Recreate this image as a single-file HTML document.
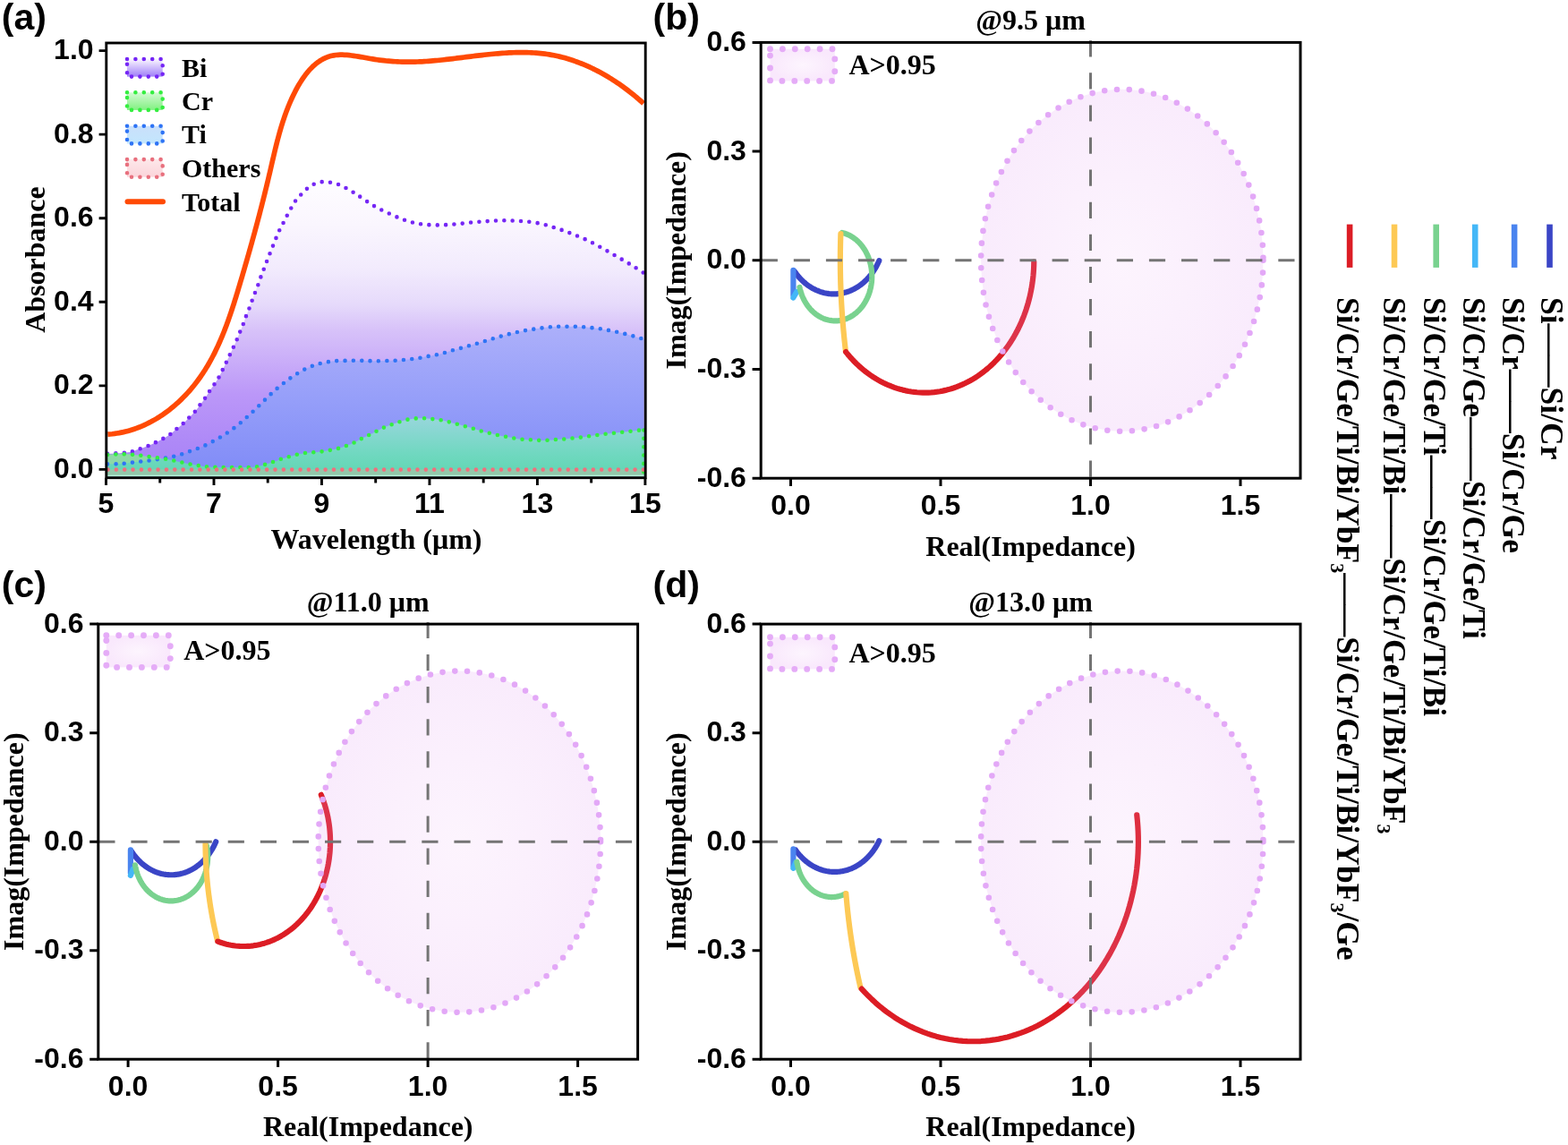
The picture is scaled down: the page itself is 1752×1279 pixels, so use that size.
<!DOCTYPE html><html><head><meta charset="utf-8"><title>Figure</title><style>html,body{margin:0;padding:0;background:#fff;}svg{display:block;}</style></head><body>
<svg width="1752" height="1279" viewBox="0 0 1752 1279">
<rect width="1752" height="1279" fill="#fff"/>
<defs>
<linearGradient id="gBi" gradientUnits="userSpaceOnUse" x1="0" y1="200" x2="0" y2="534"><stop offset="0" stop-color="#fefdff"/><stop offset="0.15" stop-color="#faf6fe"/><stop offset="0.3" stop-color="#f2ebfd"/><stop offset="0.42" stop-color="#e6dafb"/><stop offset="0.5" stop-color="#d8c3f9"/><stop offset="0.72" stop-color="#bb97f8"/><stop offset="0.88" stop-color="#ae89f7"/><stop offset="1" stop-color="#a880f6"/></linearGradient>
<linearGradient id="gTi" gradientUnits="userSpaceOnUse" x1="0" y1="362" x2="0" y2="534"><stop offset="0" stop-color="#adb0fa"/><stop offset="0.5" stop-color="#959ef9"/><stop offset="1" stop-color="#7f8af7"/></linearGradient>
<linearGradient id="gCr" gradientUnits="userSpaceOnUse" x1="0" y1="466" x2="0" y2="534"><stop offset="0" stop-color="#98d6dc"/><stop offset="0.6" stop-color="#70d8c0"/><stop offset="1" stop-color="#5ed6b0"/></linearGradient>
<linearGradient id="gCrL" gradientUnits="userSpaceOnUse" x1="0" y1="500" x2="0" y2="534"><stop offset="0" stop-color="#94daa4"/><stop offset="1" stop-color="#84d6a8"/></linearGradient>
<linearGradient id="sBi" x1="0" y1="0" x2="0" y2="1"><stop offset="0" stop-color="#fbf7ff"/><stop offset="1" stop-color="#9f7ef8"/></linearGradient>
<linearGradient id="sCr" x1="0" y1="0" x2="0" y2="1"><stop offset="0" stop-color="#d4fad4"/><stop offset="1" stop-color="#80f080"/></linearGradient>
<linearGradient id="sTi" x1="0" y1="0" x2="0" y2="1"><stop offset="0" stop-color="#cae0fb"/><stop offset="1" stop-color="#c2e6fd"/></linearGradient>
<linearGradient id="sOt" x1="0" y1="0" x2="0" y2="1"><stop offset="0" stop-color="#fde8ea"/><stop offset="1" stop-color="#fbd4da"/></linearGradient>
<radialGradient id="gPk" cx="0.5" cy="0.5" r="0.5"><stop offset="0" stop-color="#fdf5fe"/><stop offset="1" stop-color="#f9e8fc"/></radialGradient>
<radialGradient id="gPkA" cx="0.5" cy="0.5" r="0.5"><stop offset="0" stop-color="#eaa4f4" stop-opacity="0.12"/><stop offset="1" stop-color="#e098f0" stop-opacity="0.19"/></radialGradient>
<clipPath id="clipA"><rect x="120" y="49.5" width="599.5" height="82.6"/></clipPath>
</defs>
<g>
<path d="M120,506.9 C122.6,506.73 131.37,506.22 135.6,505.9 C139.83,505.58 142.3,505.65 145.4,505 C148.5,504.35 151.12,503.05 154.2,502 C157.28,500.95 160.98,499.83 163.9,498.7 C166.82,497.57 168.93,496.5 171.7,495.2 C174.47,493.9 177.57,492.47 180.5,490.9 C183.43,489.33 186.68,487.62 189.3,485.8 C191.92,483.98 193.75,482.02 196.2,480 C198.65,477.98 201.57,475.88 204,473.7 C206.43,471.52 208.52,469.18 210.8,466.9 C213.08,464.62 215.58,462.45 217.7,460 C219.82,457.55 221.55,454.8 223.5,452.2 C225.45,449.6 227.6,447 229.4,444.4 C231.2,441.8 232.6,439.15 234.3,436.6 C236,434.05 237.88,431.65 239.6,429.1 C241.32,426.55 243.05,424.02 244.6,421.3 C246.15,418.58 247.52,415.6 248.9,412.8 C250.28,410 251.55,407.32 252.9,404.5 C254.25,401.68 255.67,398.7 257,395.9 C258.33,393.1 259.62,390.47 260.9,387.7 C262.18,384.93 263.48,382.13 264.7,379.3 C265.92,376.47 267.02,373.6 268.2,370.7 C269.38,367.8 270.67,364.85 271.8,361.9 C272.93,358.95 273.88,355.92 275,353 C276.12,350.08 277.4,347.27 278.5,344.4 C279.6,341.53 280.52,338.73 281.6,335.8 C282.68,332.87 283.87,329.75 285,326.8 C286.13,323.85 287.32,321.05 288.4,318.1 C289.48,315.15 290.43,312.03 291.5,309.1 C292.57,306.17 293.68,303.42 294.8,300.5 C295.92,297.58 297.05,294.55 298.2,291.6 C299.35,288.65 300.55,285.68 301.7,282.8 C302.85,279.92 303.93,277.22 305.1,274.3 C306.27,271.38 307.47,268.23 308.7,265.3 C309.93,262.37 311.15,259.48 312.5,256.7 C313.85,253.92 315.37,251.38 316.8,248.6 C318.23,245.82 319.62,242.8 321.1,240 C322.58,237.2 324.12,234.52 325.7,231.8 C327.28,229.08 328.72,226.22 330.6,223.7 C332.48,221.18 334.77,218.98 337,216.7 C339.23,214.42 341.62,211.87 344,210 C346.38,208.13 348.6,206.65 351.3,205.5 C354,204.35 357.2,203.38 360.2,203.1 C363.2,202.82 366.25,203.28 369.3,203.8 C372.35,204.32 375.52,205.1 378.5,206.2 C381.48,207.3 384.35,208.88 387.2,210.4 C390.05,211.92 392.88,213.62 395.6,215.3 C398.32,216.98 399.77,218.03 403.5,220.5 C407.23,222.97 412.53,226.98 418,230.1 C423.47,233.22 430.37,236.5 436.3,239.2 C442.23,241.9 447.83,244.43 453.6,246.3 C459.37,248.17 464.8,249.55 470.9,250.4 C477,251.25 483.93,251.4 490.2,251.4 C496.47,251.4 502.23,250.9 508.5,250.4 C514.77,249.9 521.53,248.97 527.8,248.4 C534.07,247.83 540,247.35 546.1,247 C552.2,246.65 558.3,246.3 564.4,246.3 C570.5,246.3 576.43,246.48 582.7,247 C588.97,247.52 595.73,248.15 602,249.4 C608.27,250.65 614.37,252.63 620.3,254.5 C626.23,256.37 631.85,258.4 637.6,260.6 C643.35,262.8 649.05,265 654.8,267.7 C660.55,270.4 666.5,273.75 672.1,276.8 C677.7,279.85 682.98,282.88 688.4,286 C693.82,289.12 699.42,292.33 704.6,295.5 C709.78,298.67 717.02,303.42 719.5,305 L719.5,532.2 L120,532.2 Z" fill="url(#gBi)"/>
<path d="M120,518.4 C122.17,518.35 129.27,518.28 133,518.1 C136.73,517.92 139.3,517.63 142.4,517.3 C145.5,516.97 148.5,516.47 151.6,516.1 C154.7,515.73 157.87,515.45 161,515.1 C164.13,514.75 167.3,514.45 170.4,514 C173.5,513.55 176.55,512.93 179.6,512.4 C182.65,511.87 185.62,511.38 188.7,510.8 C191.78,510.22 195.03,509.72 198.1,508.9 C201.17,508.08 204.1,506.95 207.1,505.9 C210.1,504.85 213.13,503.67 216.1,502.6 C219.07,501.53 221.97,500.73 224.9,499.5 C227.83,498.27 230.83,496.67 233.7,495.2 C236.57,493.73 239.33,492.27 242.1,490.7 C244.87,489.13 247.63,487.5 250.3,485.8 C252.97,484.1 255.5,482.35 258.1,480.5 C260.7,478.65 263.35,476.75 265.9,474.7 C268.45,472.65 271.02,470.32 273.4,468.2 C275.78,466.08 277.93,464.12 280.2,462 C282.47,459.88 284.72,457.72 287,455.5 C289.28,453.28 291.62,450.95 293.9,448.7 C296.18,446.45 298.42,444.18 300.7,442 C302.98,439.82 305.25,437.65 307.6,435.6 C309.95,433.55 312.37,431.65 314.8,429.7 C317.23,427.75 319.75,425.68 322.2,423.9 C324.65,422.12 326.98,420.63 329.5,419 C332.02,417.37 334.6,415.57 337.3,414.1 C340,412.63 342.9,411.4 345.7,410.2 C348.5,409 351.17,407.78 354.1,406.9 C357.03,406.02 360.25,405.5 363.3,404.9 C366.35,404.3 369.32,403.62 372.4,403.3 C375.48,402.98 378.7,403.08 381.8,403 C384.9,402.92 387.9,402.83 391,402.8 C394.1,402.77 397.27,402.77 400.4,402.8 C403.53,402.83 406.87,402.92 409.8,403 C412.73,403.08 414.85,403.3 418,403.3 C421.15,403.3 425.35,403.08 428.7,403 C432.05,402.92 435,402.9 438.1,402.8 C441.2,402.7 444.2,402.63 447.3,402.4 C450.4,402.17 453.6,401.73 456.7,401.4 C459.8,401.07 462.83,400.88 465.9,400.4 C468.97,399.92 472.02,399.08 475.1,398.5 C478.18,397.92 481.32,397.5 484.4,396.9 C487.48,396.3 490.57,395.68 493.6,394.9 C496.63,394.12 499.57,393.07 502.6,392.2 C505.63,391.33 508.73,390.55 511.8,389.7 C514.87,388.85 518,387.95 521,387.1 C524,386.25 526.83,385.47 529.8,384.6 C532.77,383.73 535.87,382.78 538.8,381.9 C541.73,381.02 544.47,380.18 547.4,379.3 C550.33,378.42 553.38,377.48 556.4,376.6 C559.42,375.72 562.45,374.82 565.5,374 C568.55,373.18 571.67,372.42 574.7,371.7 C577.73,370.98 580.67,370.28 583.7,369.7 C586.73,369.12 589.83,368.68 592.9,368.2 C595.97,367.72 599,367.23 602.1,366.8 C605.2,366.37 608.4,365.93 611.5,365.6 C614.6,365.27 617.62,364.95 620.7,364.8 C623.78,364.65 626.92,364.72 630,364.7 C633.08,364.68 636.1,364.65 639.2,364.7 C642.3,364.75 645.47,364.82 648.6,365 C651.73,365.18 654.9,365.5 658,365.8 C661.1,366.1 664.13,366.4 667.2,366.8 C670.27,367.2 673.32,367.65 676.4,368.2 C679.48,368.75 682.58,369.45 685.7,370.1 C688.82,370.75 692.07,371.38 695.1,372.1 C698.13,372.82 700.9,373.58 703.9,374.4 C706.9,375.22 710.5,376.25 713.1,377 C715.7,377.75 718.43,378.58 719.5,378.9 L719.5,532.2 L120,532.2 Z" fill="url(#gTi)"/>
<path d="M120,507.9 C121.62,507.83 126.45,507.6 129.7,507.5 C132.95,507.4 136.33,507.23 139.5,507.3 C142.67,507.37 145.6,507.63 148.7,507.9 C151.8,508.17 155.02,508.52 158.1,508.9 C161.18,509.28 164.12,509.78 167.2,510.2 C170.28,510.62 173.5,510.97 176.6,511.4 C179.7,511.83 182.7,512.25 185.8,512.8 C188.9,513.35 192.17,514.05 195.2,514.7 C198.23,515.35 200.97,516.05 204,516.7 C207.03,517.35 210.3,518.02 213.4,518.6 C216.5,519.18 219.55,519.73 222.6,520.2 C225.65,520.67 228.62,521.13 231.7,521.4 C234.78,521.67 238,521.7 241.1,521.8 C244.2,521.9 247.2,521.97 250.3,522 C253.4,522.03 256.6,522 259.7,522 C262.8,522 265.75,522 268.9,522 C272.05,522 275.42,522.13 278.6,522 C281.78,521.87 284.97,521.77 288,521.2 C291.03,520.63 293.8,519.52 296.8,518.6 C299.8,517.68 302.97,516.73 306,515.7 C309.03,514.67 312.03,513.37 315,512.4 C317.97,511.43 320.8,510.72 323.8,509.9 C326.8,509.08 329.93,508.17 333,507.5 C336.07,506.83 339.12,506.28 342.2,505.9 C345.28,505.52 348.42,505.48 351.5,505.2 C354.58,504.92 357.6,504.63 360.7,504.2 C363.8,503.77 366.97,503.22 370.1,502.6 C373.23,501.98 376.47,501.35 379.5,500.5 C382.53,499.65 385.37,498.62 388.3,497.5 C391.23,496.38 394.27,495.17 397.1,493.8 C399.93,492.43 402.57,490.7 405.3,489.3 C408.03,487.9 410.73,486.77 413.5,485.4 C416.27,484.03 419.1,482.5 421.9,481.1 C424.7,479.7 427.43,478.23 430.3,477 C433.17,475.77 436.2,474.73 439.1,473.7 C442,472.67 444.77,471.68 447.7,470.8 C450.63,469.92 453.67,468.98 456.7,468.4 C459.73,467.82 462.8,467.48 465.9,467.3 C469,467.12 472.22,467.15 475.3,467.3 C478.38,467.45 481.32,467.85 484.4,468.2 C487.48,468.55 490.7,468.82 493.8,469.4 C496.9,469.98 499.93,470.92 503,471.7 C506.07,472.48 509.17,473.28 512.2,474.1 C515.23,474.92 518.17,475.75 521.2,476.6 C524.23,477.45 527.4,478.32 530.4,479.2 C533.4,480.08 536.2,481.08 539.2,481.9 C542.2,482.72 545.38,483.35 548.4,484.1 C551.42,484.85 554.28,485.75 557.3,486.4 C560.32,487.05 563.43,487.45 566.5,488 C569.57,488.55 572.6,489.22 575.7,489.7 C578.8,490.18 581.97,490.63 585.1,490.9 C588.23,491.17 591.4,491.13 594.5,491.3 C597.6,491.47 600.62,491.83 603.7,491.9 C606.78,491.97 609.85,491.87 613,491.7 C616.15,491.53 619.43,491.13 622.6,490.9 C625.77,490.67 628.87,490.57 632,490.3 C635.13,490.03 638.3,489.62 641.4,489.3 C644.5,488.98 647.52,488.78 650.6,488.4 C653.68,488.02 656.82,487.43 659.9,487 C662.98,486.57 666.03,486.2 669.1,485.8 C672.17,485.4 675.2,484.98 678.3,484.6 C681.4,484.22 684.6,483.85 687.7,483.5 C690.8,483.15 693.8,482.83 696.9,482.5 C700,482.17 703.18,481.83 706.3,481.5 C709.42,481.17 713.4,480.7 715.6,480.5 C717.8,480.3 718.85,480.33 719.5,480.3 L719.5,532.2 L120,532.2 Z" fill="url(#gCr)"/>
<clipPath id="crAboveTi"><path d="M120,518.4 C122.17,518.35 129.27,518.28 133,518.1 C136.73,517.92 139.3,517.63 142.4,517.3 C145.5,516.97 148.5,516.47 151.6,516.1 C154.7,515.73 157.87,515.45 161,515.1 C164.13,514.75 167.3,514.45 170.4,514 C173.5,513.55 176.55,512.93 179.6,512.4 C182.65,511.87 185.62,511.38 188.7,510.8 C191.78,510.22 195.03,509.72 198.1,508.9 C201.17,508.08 204.1,506.95 207.1,505.9 C210.1,504.85 213.13,503.67 216.1,502.6 C219.07,501.53 221.97,500.73 224.9,499.5 C227.83,498.27 230.83,496.67 233.7,495.2 C236.57,493.73 239.33,492.27 242.1,490.7 C244.87,489.13 247.63,487.5 250.3,485.8 C252.97,484.1 255.5,482.35 258.1,480.5 C260.7,478.65 263.35,476.75 265.9,474.7 C268.45,472.65 271.02,470.32 273.4,468.2 C275.78,466.08 277.93,464.12 280.2,462 C282.47,459.88 284.72,457.72 287,455.5 C289.28,453.28 291.62,450.95 293.9,448.7 C296.18,446.45 298.42,444.18 300.7,442 C302.98,439.82 305.25,437.65 307.6,435.6 C309.95,433.55 312.37,431.65 314.8,429.7 C317.23,427.75 319.75,425.68 322.2,423.9 C324.65,422.12 326.98,420.63 329.5,419 C332.02,417.37 334.6,415.57 337.3,414.1 C340,412.63 342.9,411.4 345.7,410.2 C348.5,409 351.17,407.78 354.1,406.9 C357.03,406.02 360.25,405.5 363.3,404.9 C366.35,404.3 369.32,403.62 372.4,403.3 C375.48,402.98 378.7,403.08 381.8,403 C384.9,402.92 387.9,402.83 391,402.8 C394.1,402.77 397.27,402.77 400.4,402.8 C403.53,402.83 406.87,402.92 409.8,403 C412.73,403.08 414.85,403.3 418,403.3 C421.15,403.3 425.35,403.08 428.7,403 C432.05,402.92 435,402.9 438.1,402.8 C441.2,402.7 444.2,402.63 447.3,402.4 C450.4,402.17 453.6,401.73 456.7,401.4 C459.8,401.07 462.83,400.88 465.9,400.4 C468.97,399.92 472.02,399.08 475.1,398.5 C478.18,397.92 481.32,397.5 484.4,396.9 C487.48,396.3 490.57,395.68 493.6,394.9 C496.63,394.12 499.57,393.07 502.6,392.2 C505.63,391.33 508.73,390.55 511.8,389.7 C514.87,388.85 518,387.95 521,387.1 C524,386.25 526.83,385.47 529.8,384.6 C532.77,383.73 535.87,382.78 538.8,381.9 C541.73,381.02 544.47,380.18 547.4,379.3 C550.33,378.42 553.38,377.48 556.4,376.6 C559.42,375.72 562.45,374.82 565.5,374 C568.55,373.18 571.67,372.42 574.7,371.7 C577.73,370.98 580.67,370.28 583.7,369.7 C586.73,369.12 589.83,368.68 592.9,368.2 C595.97,367.72 599,367.23 602.1,366.8 C605.2,366.37 608.4,365.93 611.5,365.6 C614.6,365.27 617.62,364.95 620.7,364.8 C623.78,364.65 626.92,364.72 630,364.7 C633.08,364.68 636.1,364.65 639.2,364.7 C642.3,364.75 645.47,364.82 648.6,365 C651.73,365.18 654.9,365.5 658,365.8 C661.1,366.1 664.13,366.4 667.2,366.8 C670.27,367.2 673.32,367.65 676.4,368.2 C679.48,368.75 682.58,369.45 685.7,370.1 C688.82,370.75 692.07,371.38 695.1,372.1 C698.13,372.82 700.9,373.58 703.9,374.4 C706.9,375.22 710.5,376.25 713.1,377 C715.7,377.75 718.43,378.58 719.5,378.9 L719.5,40 L120,40 Z"/></clipPath>
<path d="M120,507.9 C121.62,507.83 126.45,507.6 129.7,507.5 C132.95,507.4 136.33,507.23 139.5,507.3 C142.67,507.37 145.6,507.63 148.7,507.9 C151.8,508.17 155.02,508.52 158.1,508.9 C161.18,509.28 164.12,509.78 167.2,510.2 C170.28,510.62 173.5,510.97 176.6,511.4 C179.7,511.83 182.7,512.25 185.8,512.8 C188.9,513.35 192.17,514.05 195.2,514.7 C198.23,515.35 200.97,516.05 204,516.7 C207.03,517.35 210.3,518.02 213.4,518.6 C216.5,519.18 219.55,519.73 222.6,520.2 C225.65,520.67 228.62,521.13 231.7,521.4 C234.78,521.67 238,521.7 241.1,521.8 C244.2,521.9 247.2,521.97 250.3,522 C253.4,522.03 256.6,522 259.7,522 C262.8,522 265.75,522 268.9,522 C272.05,522 275.42,522.13 278.6,522 C281.78,521.87 284.97,521.77 288,521.2 C291.03,520.63 293.8,519.52 296.8,518.6 C299.8,517.68 302.97,516.73 306,515.7 C309.03,514.67 312.03,513.37 315,512.4 C317.97,511.43 320.8,510.72 323.8,509.9 C326.8,509.08 329.93,508.17 333,507.5 C336.07,506.83 339.12,506.28 342.2,505.9 C345.28,505.52 348.42,505.48 351.5,505.2 C354.58,504.92 357.6,504.63 360.7,504.2 C363.8,503.77 366.97,503.22 370.1,502.6 C373.23,501.98 376.47,501.35 379.5,500.5 C382.53,499.65 385.37,498.62 388.3,497.5 C391.23,496.38 394.27,495.17 397.1,493.8 C399.93,492.43 402.57,490.7 405.3,489.3 C408.03,487.9 410.73,486.77 413.5,485.4 C416.27,484.03 419.1,482.5 421.9,481.1 C424.7,479.7 427.43,478.23 430.3,477 C433.17,475.77 436.2,474.73 439.1,473.7 C442,472.67 444.77,471.68 447.7,470.8 C450.63,469.92 453.67,468.98 456.7,468.4 C459.73,467.82 462.8,467.48 465.9,467.3 C469,467.12 472.22,467.15 475.3,467.3 C478.38,467.45 481.32,467.85 484.4,468.2 C487.48,468.55 490.7,468.82 493.8,469.4 C496.9,469.98 499.93,470.92 503,471.7 C506.07,472.48 509.17,473.28 512.2,474.1 C515.23,474.92 518.17,475.75 521.2,476.6 C524.23,477.45 527.4,478.32 530.4,479.2 C533.4,480.08 536.2,481.08 539.2,481.9 C542.2,482.72 545.38,483.35 548.4,484.1 C551.42,484.85 554.28,485.75 557.3,486.4 C560.32,487.05 563.43,487.45 566.5,488 C569.57,488.55 572.6,489.22 575.7,489.7 C578.8,490.18 581.97,490.63 585.1,490.9 C588.23,491.17 591.4,491.13 594.5,491.3 C597.6,491.47 600.62,491.83 603.7,491.9 C606.78,491.97 609.85,491.87 613,491.7 C616.15,491.53 619.43,491.13 622.6,490.9 C625.77,490.67 628.87,490.57 632,490.3 C635.13,490.03 638.3,489.62 641.4,489.3 C644.5,488.98 647.52,488.78 650.6,488.4 C653.68,488.02 656.82,487.43 659.9,487 C662.98,486.57 666.03,486.2 669.1,485.8 C672.17,485.4 675.2,484.98 678.3,484.6 C681.4,484.22 684.6,483.85 687.7,483.5 C690.8,483.15 693.8,482.83 696.9,482.5 C700,482.17 703.18,481.83 706.3,481.5 C709.42,481.17 713.4,480.7 715.6,480.5 C717.8,480.3 718.85,480.33 719.5,480.3 L719.5,532.2 L120,532.2 Z" fill="url(#gCrL)" clip-path="url(#crAboveTi)"/>
<rect x="120" y="524.4" width="599.5" height="7.8" fill="#93c8aa"/>
<rect x="120" y="530.6" width="599.5" height="1.6" fill="#b2eed6"/>
</g>
<path d="M120,506.9 C122.6,506.73 131.37,506.22 135.6,505.9 C139.83,505.58 142.3,505.65 145.4,505 C148.5,504.35 151.12,503.05 154.2,502 C157.28,500.95 160.98,499.83 163.9,498.7 C166.82,497.57 168.93,496.5 171.7,495.2 C174.47,493.9 177.57,492.47 180.5,490.9 C183.43,489.33 186.68,487.62 189.3,485.8 C191.92,483.98 193.75,482.02 196.2,480 C198.65,477.98 201.57,475.88 204,473.7 C206.43,471.52 208.52,469.18 210.8,466.9 C213.08,464.62 215.58,462.45 217.7,460 C219.82,457.55 221.55,454.8 223.5,452.2 C225.45,449.6 227.6,447 229.4,444.4 C231.2,441.8 232.6,439.15 234.3,436.6 C236,434.05 237.88,431.65 239.6,429.1 C241.32,426.55 243.05,424.02 244.6,421.3 C246.15,418.58 247.52,415.6 248.9,412.8 C250.28,410 251.55,407.32 252.9,404.5 C254.25,401.68 255.67,398.7 257,395.9 C258.33,393.1 259.62,390.47 260.9,387.7 C262.18,384.93 263.48,382.13 264.7,379.3 C265.92,376.47 267.02,373.6 268.2,370.7 C269.38,367.8 270.67,364.85 271.8,361.9 C272.93,358.95 273.88,355.92 275,353 C276.12,350.08 277.4,347.27 278.5,344.4 C279.6,341.53 280.52,338.73 281.6,335.8 C282.68,332.87 283.87,329.75 285,326.8 C286.13,323.85 287.32,321.05 288.4,318.1 C289.48,315.15 290.43,312.03 291.5,309.1 C292.57,306.17 293.68,303.42 294.8,300.5 C295.92,297.58 297.05,294.55 298.2,291.6 C299.35,288.65 300.55,285.68 301.7,282.8 C302.85,279.92 303.93,277.22 305.1,274.3 C306.27,271.38 307.47,268.23 308.7,265.3 C309.93,262.37 311.15,259.48 312.5,256.7 C313.85,253.92 315.37,251.38 316.8,248.6 C318.23,245.82 319.62,242.8 321.1,240 C322.58,237.2 324.12,234.52 325.7,231.8 C327.28,229.08 328.72,226.22 330.6,223.7 C332.48,221.18 334.77,218.98 337,216.7 C339.23,214.42 341.62,211.87 344,210 C346.38,208.13 348.6,206.65 351.3,205.5 C354,204.35 357.2,203.38 360.2,203.1 C363.2,202.82 366.25,203.28 369.3,203.8 C372.35,204.32 375.52,205.1 378.5,206.2 C381.48,207.3 384.35,208.88 387.2,210.4 C390.05,211.92 392.88,213.62 395.6,215.3 C398.32,216.98 399.77,218.03 403.5,220.5 C407.23,222.97 412.53,226.98 418,230.1 C423.47,233.22 430.37,236.5 436.3,239.2 C442.23,241.9 447.83,244.43 453.6,246.3 C459.37,248.17 464.8,249.55 470.9,250.4 C477,251.25 483.93,251.4 490.2,251.4 C496.47,251.4 502.23,250.9 508.5,250.4 C514.77,249.9 521.53,248.97 527.8,248.4 C534.07,247.83 540,247.35 546.1,247 C552.2,246.65 558.3,246.3 564.4,246.3 C570.5,246.3 576.43,246.48 582.7,247 C588.97,247.52 595.73,248.15 602,249.4 C608.27,250.65 614.37,252.63 620.3,254.5 C626.23,256.37 631.85,258.4 637.6,260.6 C643.35,262.8 649.05,265 654.8,267.7 C660.55,270.4 666.5,273.75 672.1,276.8 C677.7,279.85 682.98,282.88 688.4,286 C693.82,289.12 699.42,292.33 704.6,295.5 C709.78,298.67 717.02,303.42 719.5,305" fill="none" stroke="#7526f5" stroke-width="4.6" stroke-linecap="round" stroke-dasharray="0 9.35"/>
<path d="M120,518.4 C122.17,518.35 129.27,518.28 133,518.1 C136.73,517.92 139.3,517.63 142.4,517.3 C145.5,516.97 148.5,516.47 151.6,516.1 C154.7,515.73 157.87,515.45 161,515.1 C164.13,514.75 167.3,514.45 170.4,514 C173.5,513.55 176.55,512.93 179.6,512.4 C182.65,511.87 185.62,511.38 188.7,510.8 C191.78,510.22 195.03,509.72 198.1,508.9 C201.17,508.08 204.1,506.95 207.1,505.9 C210.1,504.85 213.13,503.67 216.1,502.6 C219.07,501.53 221.97,500.73 224.9,499.5 C227.83,498.27 230.83,496.67 233.7,495.2 C236.57,493.73 239.33,492.27 242.1,490.7 C244.87,489.13 247.63,487.5 250.3,485.8 C252.97,484.1 255.5,482.35 258.1,480.5 C260.7,478.65 263.35,476.75 265.9,474.7 C268.45,472.65 271.02,470.32 273.4,468.2 C275.78,466.08 277.93,464.12 280.2,462 C282.47,459.88 284.72,457.72 287,455.5 C289.28,453.28 291.62,450.95 293.9,448.7 C296.18,446.45 298.42,444.18 300.7,442 C302.98,439.82 305.25,437.65 307.6,435.6 C309.95,433.55 312.37,431.65 314.8,429.7 C317.23,427.75 319.75,425.68 322.2,423.9 C324.65,422.12 326.98,420.63 329.5,419 C332.02,417.37 334.6,415.57 337.3,414.1 C340,412.63 342.9,411.4 345.7,410.2 C348.5,409 351.17,407.78 354.1,406.9 C357.03,406.02 360.25,405.5 363.3,404.9 C366.35,404.3 369.32,403.62 372.4,403.3 C375.48,402.98 378.7,403.08 381.8,403 C384.9,402.92 387.9,402.83 391,402.8 C394.1,402.77 397.27,402.77 400.4,402.8 C403.53,402.83 406.87,402.92 409.8,403 C412.73,403.08 414.85,403.3 418,403.3 C421.15,403.3 425.35,403.08 428.7,403 C432.05,402.92 435,402.9 438.1,402.8 C441.2,402.7 444.2,402.63 447.3,402.4 C450.4,402.17 453.6,401.73 456.7,401.4 C459.8,401.07 462.83,400.88 465.9,400.4 C468.97,399.92 472.02,399.08 475.1,398.5 C478.18,397.92 481.32,397.5 484.4,396.9 C487.48,396.3 490.57,395.68 493.6,394.9 C496.63,394.12 499.57,393.07 502.6,392.2 C505.63,391.33 508.73,390.55 511.8,389.7 C514.87,388.85 518,387.95 521,387.1 C524,386.25 526.83,385.47 529.8,384.6 C532.77,383.73 535.87,382.78 538.8,381.9 C541.73,381.02 544.47,380.18 547.4,379.3 C550.33,378.42 553.38,377.48 556.4,376.6 C559.42,375.72 562.45,374.82 565.5,374 C568.55,373.18 571.67,372.42 574.7,371.7 C577.73,370.98 580.67,370.28 583.7,369.7 C586.73,369.12 589.83,368.68 592.9,368.2 C595.97,367.72 599,367.23 602.1,366.8 C605.2,366.37 608.4,365.93 611.5,365.6 C614.6,365.27 617.62,364.95 620.7,364.8 C623.78,364.65 626.92,364.72 630,364.7 C633.08,364.68 636.1,364.65 639.2,364.7 C642.3,364.75 645.47,364.82 648.6,365 C651.73,365.18 654.9,365.5 658,365.8 C661.1,366.1 664.13,366.4 667.2,366.8 C670.27,367.2 673.32,367.65 676.4,368.2 C679.48,368.75 682.58,369.45 685.7,370.1 C688.82,370.75 692.07,371.38 695.1,372.1 C698.13,372.82 700.9,373.58 703.9,374.4 C706.9,375.22 710.5,376.25 713.1,377 C715.7,377.75 718.43,378.58 719.5,378.9" fill="none" stroke="#2f74f5" stroke-width="4.6" stroke-linecap="round" stroke-dasharray="0 9.35"/>
<path d="M120,507.9 C121.62,507.83 126.45,507.6 129.7,507.5 C132.95,507.4 136.33,507.23 139.5,507.3 C142.67,507.37 145.6,507.63 148.7,507.9 C151.8,508.17 155.02,508.52 158.1,508.9 C161.18,509.28 164.12,509.78 167.2,510.2 C170.28,510.62 173.5,510.97 176.6,511.4 C179.7,511.83 182.7,512.25 185.8,512.8 C188.9,513.35 192.17,514.05 195.2,514.7 C198.23,515.35 200.97,516.05 204,516.7 C207.03,517.35 210.3,518.02 213.4,518.6 C216.5,519.18 219.55,519.73 222.6,520.2 C225.65,520.67 228.62,521.13 231.7,521.4 C234.78,521.67 238,521.7 241.1,521.8 C244.2,521.9 247.2,521.97 250.3,522 C253.4,522.03 256.6,522 259.7,522 C262.8,522 265.75,522 268.9,522 C272.05,522 275.42,522.13 278.6,522 C281.78,521.87 284.97,521.77 288,521.2 C291.03,520.63 293.8,519.52 296.8,518.6 C299.8,517.68 302.97,516.73 306,515.7 C309.03,514.67 312.03,513.37 315,512.4 C317.97,511.43 320.8,510.72 323.8,509.9 C326.8,509.08 329.93,508.17 333,507.5 C336.07,506.83 339.12,506.28 342.2,505.9 C345.28,505.52 348.42,505.48 351.5,505.2 C354.58,504.92 357.6,504.63 360.7,504.2 C363.8,503.77 366.97,503.22 370.1,502.6 C373.23,501.98 376.47,501.35 379.5,500.5 C382.53,499.65 385.37,498.62 388.3,497.5 C391.23,496.38 394.27,495.17 397.1,493.8 C399.93,492.43 402.57,490.7 405.3,489.3 C408.03,487.9 410.73,486.77 413.5,485.4 C416.27,484.03 419.1,482.5 421.9,481.1 C424.7,479.7 427.43,478.23 430.3,477 C433.17,475.77 436.2,474.73 439.1,473.7 C442,472.67 444.77,471.68 447.7,470.8 C450.63,469.92 453.67,468.98 456.7,468.4 C459.73,467.82 462.8,467.48 465.9,467.3 C469,467.12 472.22,467.15 475.3,467.3 C478.38,467.45 481.32,467.85 484.4,468.2 C487.48,468.55 490.7,468.82 493.8,469.4 C496.9,469.98 499.93,470.92 503,471.7 C506.07,472.48 509.17,473.28 512.2,474.1 C515.23,474.92 518.17,475.75 521.2,476.6 C524.23,477.45 527.4,478.32 530.4,479.2 C533.4,480.08 536.2,481.08 539.2,481.9 C542.2,482.72 545.38,483.35 548.4,484.1 C551.42,484.85 554.28,485.75 557.3,486.4 C560.32,487.05 563.43,487.45 566.5,488 C569.57,488.55 572.6,489.22 575.7,489.7 C578.8,490.18 581.97,490.63 585.1,490.9 C588.23,491.17 591.4,491.13 594.5,491.3 C597.6,491.47 600.62,491.83 603.7,491.9 C606.78,491.97 609.85,491.87 613,491.7 C616.15,491.53 619.43,491.13 622.6,490.9 C625.77,490.67 628.87,490.57 632,490.3 C635.13,490.03 638.3,489.62 641.4,489.3 C644.5,488.98 647.52,488.78 650.6,488.4 C653.68,488.02 656.82,487.43 659.9,487 C662.98,486.57 666.03,486.2 669.1,485.8 C672.17,485.4 675.2,484.98 678.3,484.6 C681.4,484.22 684.6,483.85 687.7,483.5 C690.8,483.15 693.8,482.83 696.9,482.5 C700,482.17 703.18,481.83 706.3,481.5 C709.42,481.17 713.4,480.7 715.6,480.5 C717.8,480.3 718.85,480.33 719.5,480.3" fill="none" stroke="#34ee40" stroke-width="4.6" stroke-linecap="round" stroke-dasharray="0 9.35"/>
<path d="M719.3,480.5 L719.3,531" fill="none" stroke="#34ee40" stroke-width="4.6" stroke-linecap="round" stroke-dasharray="0 9.35"/>
<path d="M120.5,524.6 L719.5,524.6" fill="none" stroke="#f0707e" stroke-width="4.6" stroke-linecap="round" stroke-dasharray="0 9.35"/>
<path d="M120.33,485.18 L122.89,484.98 L125.45,484.73 L127.99,484.42 L130.51,484.05 L133.01,483.63 L135.5,483.15 L137.97,482.63 L140.43,482.04 L142.86,481.41 L145.28,480.73 L147.68,479.99 L150.06,479.21 L152.42,478.38 L154.76,477.5 L157.08,476.58 L159.39,475.61 L161.67,474.59 L163.93,473.53 L166.17,472.43 L168.39,471.28 L170.59,470.09 L172.77,468.86 L174.92,467.59 L177.06,466.29 L179.17,464.94 L181.25,463.56 L183.32,462.14 L185.36,460.68 L187.37,459.19 L189.37,457.66 L191.34,456.1 L193.28,454.51 L195.2,452.89 L197.09,451.23 L198.96,449.55 L200.8,447.84 L202.62,446.09 L204.41,444.33 L206.18,442.53 L207.91,440.71 L209.62,438.86 L211.3,436.99 L212.96,435.09 L214.58,433.18 L216.18,431.24 L217.75,429.28 L219.29,427.3 L220.8,425.3 L222.28,423.28 L223.73,421.24 L225.15,419.19 L226.54,417.12 L227.91,415.03 L229.25,412.93 L230.56,410.81 L231.85,408.68 L233.11,406.53 L234.34,404.37 L235.56,402.19 L236.74,400 L237.91,397.79 L239.05,395.58 L240.17,393.35 L241.27,391.1 L242.35,388.85 L243.4,386.58 L244.44,384.31 L245.46,382.02 L246.46,379.73 L247.44,377.42 L248.41,375.1 L249.35,372.78 L250.29,370.45 L251.2,368.11 L252.1,365.76 L252.99,363.4 L253.86,361.04 L254.72,358.67 L255.57,356.3 L256.4,353.92 L257.22,351.54 L258.03,349.15 L258.83,346.75 L259.62,344.35 L260.41,341.95 L261.18,339.55 L261.94,337.14 L262.7,334.73 L263.45,332.32 L264.19,329.91 L264.93,327.49 L265.66,325.08 L266.39,322.67 L267.11,320.25 L267.83,317.84 L268.55,315.43 L269.26,313.01 L269.98,310.6 L270.69,308.2 L271.39,305.79 L272.1,303.38 L272.8,300.98 L273.5,298.57 L274.2,296.17 L274.89,293.77 L275.58,291.36 L276.27,288.96 L276.96,286.56 L277.64,284.16 L278.32,281.76 L279,279.36 L279.68,276.96 L280.35,274.56 L281.02,272.16 L281.69,269.76 L282.36,267.35 L283.02,264.95 L283.68,262.55 L284.34,260.15 L284.99,257.75 L285.64,255.34 L286.29,252.94 L286.94,250.53 L287.58,248.12 L288.22,245.72 L288.86,243.31 L289.5,240.9 L290.13,238.49 L290.76,236.07 L291.38,233.66 L292.01,231.24 L292.63,228.82 L293.24,226.4 L293.86,223.98 L294.47,221.56 L295.08,219.13 L295.68,216.7 L296.28,214.27 L296.88,211.84 L297.48,209.41 L298.07,206.97 L298.66,204.53 L299.24,202.08 L299.83,199.64 L300.41,197.19 L300.98,194.74 L301.56,192.28 L302.13,189.82 L302.7,187.36 L303.27,184.9 L303.84,182.44 L304.41,179.97 L304.98,177.5 L305.56,175.04 L306.14,172.57 L306.72,170.11 L307.32,167.64 L307.92,165.18 L308.52,162.72 L309.14,160.27 L309.77,157.81 L310.41,155.36 L311.06,152.91 L311.72,150.47 L312.4,148.03 L313.1,145.6 L313.81,143.17 L314.53,140.75 L315.28,138.33 L316.04,135.93 L316.83,133.52 L317.63,131.13 L318.46,128.75 L319.31,126.37 L320.18,124 L321.08,121.65 L322.01,119.3 L322.96,116.96 L323.94,114.64 L324.95,112.32 L325.99,110.02 L327.06,107.73 L328.16,105.45 L329.29,103.18 L330.46,100.93 L331.66,98.7 L332.9,96.48 L334.17,94.28 L335.49,92.12 L336.84,89.98 L338.22,87.89 L339.65,85.83 L341.12,83.83 L342.63,81.88 L344.18,79.99 L345.77,78.15 L347.41,76.39 L349.09,74.7 L350.81,73.09 L352.59,71.55 L354.4,70.11 L356.27,68.76 L358.18,67.5 L360.15,66.35 L362.16,65.3 L364.22,64.37 L366.33,63.55 L368.5,62.85 L370.72,62.28 L372.99,61.84 L375.31,61.52 L377.68,61.31 L380.09,61.21 L382.54,61.21 L385.03,61.29 L387.54,61.45 L390.09,61.68 L392.65,61.97 L395.24,62.32 L397.85,62.7 L400.46,63.13 L403.09,63.57 L405.72,64.04 L408.36,64.51 L410.99,64.99 L413.61,65.45 L416.23,65.9 L418.84,66.32 L421.43,66.7 L424,67.06 L426.56,67.39 L429.11,67.69 L431.65,67.96 L434.18,68.2 L436.7,68.41 L439.21,68.6 L441.71,68.76 L444.2,68.89 L446.69,69 L449.17,69.08 L451.65,69.14 L454.12,69.18 L456.58,69.19 L459.05,69.17 L461.51,69.14 L463.97,69.08 L466.43,69.01 L468.89,68.91 L471.35,68.79 L473.82,68.65 L476.28,68.49 L478.75,68.32 L481.21,68.13 L483.68,67.93 L486.15,67.71 L488.62,67.47 L491.09,67.23 L493.57,66.97 L496.05,66.71 L498.52,66.43 L501.01,66.15 L503.49,65.86 L505.98,65.56 L508.47,65.26 L510.96,64.95 L513.46,64.64 L515.96,64.33 L518.46,64.01 L520.96,63.7 L523.47,63.38 L525.99,63.07 L528.5,62.76 L531.02,62.45 L533.54,62.15 L536.06,61.85 L538.58,61.56 L541.1,61.27 L543.63,61 L546.15,60.73 L548.68,60.48 L551.21,60.24 L553.73,60.01 L556.26,59.79 L558.78,59.59 L561.31,59.4 L563.83,59.23 L566.36,59.08 L568.88,58.95 L571.4,58.83 L573.92,58.74 L576.43,58.67 L578.94,58.62 L581.46,58.6 L583.96,58.6 L586.47,58.62 L588.97,58.68 L591.46,58.76 L593.96,58.87 L596.45,59.01 L598.93,59.18 L601.41,59.38 L603.88,59.61 L606.35,59.88 L608.82,60.19 L611.28,60.53 L613.73,60.91 L616.17,61.32 L618.61,61.77 L621.04,62.27 L623.47,62.8 L625.89,63.37 L628.3,63.97 L630.7,64.61 L633.09,65.29 L635.48,66.01 L637.86,66.75 L640.22,67.54 L642.58,68.35 L644.93,69.2 L647.27,70.08 L649.6,71 L651.92,71.94 L654.23,72.92 L656.53,73.93 L658.81,74.96 L661.09,76.03 L663.35,77.12 L665.6,78.25 L667.84,79.4 L670.07,80.58 L672.28,81.78 L674.48,83.01 L676.67,84.27 L678.84,85.55 L681,86.86 L683.14,88.19 L685.28,89.54 L687.39,90.91 L689.49,92.31 L691.58,93.73 L693.65,95.17 L695.7,96.64 L697.74,98.12 L699.76,99.62 L701.77,101.14 L703.76,102.68 L705.73,104.23 L707.68,105.81 L709.62,107.4 L711.54,109 L713.44,110.63 L715.32,112.26 L717.18,113.92 L719.02,115.58" fill="none" stroke="#ff4a05" stroke-width="5.7" stroke-linecap="butt" stroke-linejoin="round"/>
<rect x="118.8" y="48" width="602.4" height="485.7" fill="none" stroke="#000" stroke-width="2.9"/>
<path d="M110.6,524.4 H118.8 M110.6,430.84 H118.8 M110.6,337.28 H118.8 M110.6,243.72 H118.8 M110.6,150.16 H118.8 M110.6,56.6 H118.8 M118.5,533.7 v8.3 M178.74,533.7 v5.8 M238.98,533.7 v8.3 M299.22,533.7 v5.8 M359.46,533.7 v8.3 M419.7,533.7 v5.8 M479.94,533.7 v8.3 M540.18,533.7 v5.8 M600.42,533.7 v8.3 M660.66,533.7 v5.8 M720.9,533.7 v8.3" stroke="#000" stroke-width="2.9" fill="none"/>
<g font-family="'Liberation Sans', Arial, sans-serif" font-weight="bold" font-size="32" fill="#000">
<text x="104.6" y="534" text-anchor="end">0.0</text>
<text x="104.6" y="440.44" text-anchor="end">0.2</text>
<text x="104.6" y="346.88" text-anchor="end">0.4</text>
<text x="104.6" y="253.32" text-anchor="end">0.6</text>
<text x="104.6" y="159.76" text-anchor="end">0.8</text>
<text x="104.6" y="66.2" text-anchor="end">1.0</text>
<text x="118.5" y="572.5" text-anchor="middle">5</text>
<text x="238.98" y="572.5" text-anchor="middle">7</text>
<text x="359.46" y="572.5" text-anchor="middle">9</text>
<text x="479.94" y="572.5" text-anchor="middle">11</text>
<text x="600.42" y="572.5" text-anchor="middle">13</text>
<text x="720.9" y="572.5" text-anchor="middle">15</text>
</g>
<text x="420.5" y="613.3" font-family="'Liberation Serif', 'Times New Roman', serif" font-weight="bold" font-size="32" text-anchor="middle">Wavelength (μm)</text>
<text transform="translate(50.1,290) rotate(-90)" font-family="'Liberation Serif', 'Times New Roman', serif" font-weight="bold" font-size="32" text-anchor="middle">Absorbance</text>
<rect x="142" y="66" width="39.7" height="19.6" fill="url(#sBi)"/>
<rect x="142" y="66" width="39.7" height="19.6" fill="none" stroke="#7526f5" stroke-width="4.6" stroke-linecap="round" stroke-dasharray="0 9.4"/>
<rect x="142" y="103.3" width="39.7" height="19.6" fill="url(#sCr)"/>
<rect x="142" y="103.3" width="39.7" height="19.6" fill="none" stroke="#34ee40" stroke-width="4.6" stroke-linecap="round" stroke-dasharray="0 9.4"/>
<rect x="142" y="140.8" width="39.7" height="19.6" fill="url(#sTi)"/>
<rect x="142" y="140.8" width="39.7" height="19.6" fill="none" stroke="#2f74f5" stroke-width="4.6" stroke-linecap="round" stroke-dasharray="0 9.4"/>
<rect x="142" y="178.1" width="39.7" height="19.6" fill="url(#sOt)"/>
<rect x="142" y="178.1" width="39.7" height="19.6" fill="none" stroke="#e8707e" stroke-width="4.6" stroke-linecap="round" stroke-dasharray="0 9.4"/>
<path d="M142.5,225.3 H182" stroke="#ff4a05" stroke-width="6" stroke-linecap="round"/>
<g font-family="'Liberation Serif', 'Times New Roman', serif" font-weight="bold" font-size="30" fill="#000">
<text x="203" y="85.7">Bi</text>
<text x="203" y="123.3">Cr</text>
<text x="203" y="160.3">Ti</text>
<text x="203" y="197.5">Others</text>
<text x="203" y="235.5">Total</text>
</g>
<path d="M982.29,291.16 L981.71,292.5 L981.1,293.82 L980.46,295.13 L979.8,296.42 L979.12,297.69 L978.42,298.95 L977.69,300.18 L976.94,301.4 L976.17,302.59 L975.37,303.77 L974.56,304.92 L973.72,306.05 L972.87,307.16 L971.99,308.24 L971.1,309.3 L970.18,310.34 L969.25,311.35 L968.3,312.34 L967.33,313.3 L966.34,314.24 L965.34,315.15 L964.32,316.03 L963.28,316.88 L962.23,317.71 L961.17,318.51 L960.09,319.28 L959,320.02 L957.89,320.73 L956.77,321.41 L955.64,322.06 L954.5,322.68 L953.34,323.27 L952.18,323.83 L951,324.36 L949.82,324.86 L948.63,325.32 L947.43,325.75 L946.22,326.16 L945,326.52 L943.78,326.86 L942.55,327.16 L941.32,327.43 L940.08,327.67 L938.84,327.88 L937.6,328.05 L936.35,328.18 L935.1,328.29 L933.85,328.36 L932.6,328.4 L931.34,328.4 L930.09,328.37 L928.84,328.31 L927.59,328.22 L926.34,328.09 L925.1,327.92 L923.85,327.73 L922.62,327.5 L921.38,327.24 L920.15,326.94 L918.93,326.61 L917.71,326.25 L916.5,325.86 L915.3,325.44 L914.11,324.98 L912.92,324.49 L911.74,323.97 L910.58,323.42 L909.42,322.84 L908.27,322.23 L907.14,321.58 L906.02,320.91 L904.91,320.2 L903.81,319.47 L902.73,318.71 L901.66,317.92 L900.6,317.1 L899.56,316.25 L898.54,315.38 L897.53,314.48 L896.54,313.55 L895.57,312.59 L894.61,311.61 L893.67,310.61 L892.76,309.58 L891.85,308.52 L890.97,307.44 L890.11,306.34 L889.27,305.22 L888.45,304.07 L887.65,302.9" fill="none" stroke="#3a45c6" stroke-width="6.2" stroke-linecap="round" stroke-linejoin="round"/>
<path d="M886.4,301.8 L886.4,316 L886.4,330" fill="none" stroke="#4a84ef" stroke-width="6.2" stroke-linecap="round" stroke-linejoin="round"/>
<path d="M886.4,332.5 L890.2,326" fill="none" stroke="#44b7f7" stroke-width="6.2" stroke-linecap="round" stroke-linejoin="round"/>
<path d="M893.45,320.96 L893.97,323.23 L894.59,325.47 L895.29,327.67 L896.07,329.83 L896.94,331.94 L897.9,334 L898.93,336 L900.04,337.94 L901.22,339.81 L902.47,341.61 L903.8,343.34 L905.19,344.99 L906.64,346.56 L908.15,348.04 L909.72,349.44 L911.35,350.74 L913.02,351.95 L914.74,353.06 L916.5,354.07 L918.29,354.98 L920.12,355.79 L921.98,356.49 L923.87,357.08 L925.77,357.56 L927.7,357.93 L929.63,358.19 L931.57,358.34 L933.52,358.38 L935.47,358.31 L937.41,358.12 L939.34,357.83 L941.26,357.42 L943.16,356.9 L945.04,356.28 L946.89,355.54 L948.71,354.71 L950.49,353.77 L952.24,352.72 L953.94,351.58 L955.6,350.34 L957.2,349.01 L958.76,347.58 L960.25,346.07 L961.69,344.48 L963.06,342.8 L964.36,341.05 L965.59,339.22 L966.75,337.33 L967.83,335.37 L968.84,333.35 L969.77,331.28 L970.61,329.15 L971.37,326.98 L972.04,324.77 L972.63,322.52 L973.13,320.24 L973.53,317.94 L973.85,315.61 L974.08,313.27 L974.21,310.92 L974.25,308.56 L974.2,306.2 L974.06,303.85 L973.82,301.51 L973.49,299.18 L973.08,296.88 L972.57,294.6 L971.97,292.36 L971.29,290.15 L970.52,287.99 L969.67,285.87 L968.73,283.8 L967.72,281.79 L966.62,279.83 L965.46,277.95 L964.22,276.13 L962.91,274.39 L961.53,272.72 L960.09,271.13 L958.59,269.63 L957.03,268.22 L955.41,266.9 L953.75,265.67 L952.04,264.54 L950.29,263.5 L948.5,262.57 L946.68,261.75 L944.83,261.03 L942.95,260.41 L941.04,259.91" fill="none" stroke="#79d28f" stroke-width="6.2" stroke-linecap="round" stroke-linejoin="round"/>
<path d="M939.39,261.14 L939.34,262.61 L939.29,264.07 L939.25,265.53 L939.21,266.99 L939.17,268.45 L939.13,269.91 L939.1,271.38 L939.06,272.84 L939.03,274.3 L939.01,275.76 L938.98,277.23 L938.96,278.69 L938.94,280.15 L938.92,281.61 L938.91,283.08 L938.9,284.54 L938.89,286 L938.88,287.46 L938.88,288.93 L938.88,290.39 L938.88,291.85 L938.88,293.31 L938.88,294.78 L938.89,296.24 L938.9,297.7 L938.92,299.16 L938.93,300.63 L938.95,302.09 L938.97,303.55 L938.99,305.01 L939.02,306.48 L939.05,307.94 L939.08,309.4 L939.11,310.86 L939.15,312.32 L939.18,313.79 L939.22,315.25 L939.27,316.71 L939.31,318.17 L939.36,319.63 L939.41,321.09 L939.46,322.55 L939.52,324.02 L939.58,325.48 L939.64,326.94 L939.7,328.4 L939.77,329.86 L939.83,331.32 L939.9,332.78 L939.98,334.24 L940.05,335.7 L940.13,337.16 L940.21,338.62 L940.29,340.08 L940.38,341.54 L940.47,342.99 L940.56,344.45 L940.65,345.91 L940.74,347.37 L940.84,348.83 L940.94,350.28 L941.04,351.74 L941.15,353.2 L941.26,354.66 L941.37,356.11 L941.48,357.57 L941.6,359.02 L941.71,360.48 L941.83,361.93 L941.96,363.39 L942.08,364.84 L942.21,366.3 L942.34,367.75 L942.47,369.21 L942.61,370.66 L942.74,372.11 L942.88,373.57 L943.03,375.02 L943.17,376.47 L943.32,377.92 L943.47,379.37 L943.62,380.82 L943.77,382.28 L943.93,383.73 L944.09,385.17 L944.25,386.62 L944.42,388.07 L944.59,389.52 L944.76,390.97 L944.93,392.42" fill="none" stroke="#fdc955" stroke-width="6.2" stroke-linecap="round" stroke-linejoin="round"/>
<path d="M945.1,393.12 L947.35,395.88 L949.66,398.58 L952.03,401.2 L954.45,403.75 L956.93,406.21 L959.46,408.6 L962.04,410.9 L964.67,413.13 L967.35,415.27 L970.08,417.32 L972.84,419.28 L975.65,421.16 L978.5,422.95 L981.38,424.64 L984.31,426.24 L987.26,427.75 L990.25,429.17 L993.27,430.49 L996.31,431.71 L999.38,432.84 L1002.47,433.86 L1005.59,434.79 L1008.72,435.62 L1011.87,436.35 L1015.04,436.98 L1018.22,437.51 L1021.41,437.93 L1024.6,438.26 L1027.8,438.48 L1031.01,438.6 L1034.22,438.62 L1037.42,438.54 L1040.63,438.35 L1043.83,438.06 L1047.02,437.68 L1050.2,437.19 L1053.37,436.6 L1056.53,435.9 L1059.67,435.11 L1062.79,434.22 L1065.89,433.23 L1068.97,432.14 L1072.02,430.95 L1075.05,429.67 L1078.05,428.29 L1081.02,426.82 L1083.95,425.25 L1086.85,423.59 L1089.72,421.84 L1092.54,419.99 L1095.32,418.06 L1098.06,416.04 L1100.76,413.93 L1103.4,411.74 L1106,409.47 L1108.55,407.11 L1111.05,404.67 L1113.5,402.16 L1115.88,399.56 L1118.22,396.9 L1120.49,394.16 L1122.7,391.34 L1124.85,388.46 L1126.94,385.51 L1128.96,382.5 L1130.92,379.42 L1132.81,376.28 L1134.63,373.08 L1136.38,369.83 L1138.06,366.52 L1139.66,363.16 L1141.2,359.74 L1142.65,356.28 L1144.04,352.78 L1145.34,349.23 L1146.57,345.64 L1147.72,342.02 L1148.8,338.36 L1149.79,334.66 L1150.7,330.94 L1151.53,327.19 L1152.28,323.41 L1152.94,319.61 L1153.53,315.79 L1154.03,311.96 L1154.45,308.1 L1154.78,304.24 L1155.03,300.37 L1155.2,296.49 L1155.28,292.61" fill="none" stroke="#dc1d25" stroke-width="6.2" stroke-linecap="round" stroke-linejoin="round"/>
<ellipse cx="1253.78" cy="290.8" rx="157.68" ry="190.95" fill="url(#gPkA)"/>
<ellipse cx="1253.78" cy="290.8" rx="157.68" ry="190.95" fill="none" stroke="#e3a8f7" stroke-width="6.6" stroke-linecap="round" stroke-dasharray="0 13.85"/>
<path d="M850.7,290.8 H1453 M1218.5,45.2 V534.2" stroke="#747474" stroke-width="3" fill="none" stroke-dasharray="18.2 17.9"/>
<rect x="850.2" y="47.4" width="602.8" height="486.8" fill="none" stroke="#000" stroke-width="3"/>
<path d="M840.6,534.2 H850.2 M840.6,412.5 H850.2 M840.6,290.8 H850.2 M840.6,169.1 H850.2 M840.6,47.4 H850.2 M883.5,534.2 V543.1 M1051,534.2 V543.1 M1218.5,534.2 V543.1 M1386,534.2 V543.1" stroke="#000" stroke-width="3" fill="none"/>
<g font-family="'Liberation Sans', Arial, sans-serif" font-weight="bold" font-size="32">
<text x="833.9" y="543.8" text-anchor="end">-0.6</text>
<text x="833.9" y="422.1" text-anchor="end">-0.3</text>
<text x="833.9" y="300.4" text-anchor="end">0.0</text>
<text x="833.9" y="178.7" text-anchor="end">0.3</text>
<text x="833.9" y="57" text-anchor="end">0.6</text>
<text x="883.5" y="575.4" text-anchor="middle">0.0</text>
<text x="1051" y="575.4" text-anchor="middle">0.5</text>
<text x="1218.5" y="575.4" text-anchor="middle">1.0</text>
<text x="1386" y="575.4" text-anchor="middle">1.5</text>
</g>
<g font-family="'Liberation Serif', 'Times New Roman', serif" font-weight="bold" font-size="32">
<text x="1151.6" y="620.9" text-anchor="middle">Real(Impedance)</text>
<text transform="translate(766.4,290.8) rotate(-90)" text-anchor="middle">Imag(Impedance)</text>
<text x="1151.6" y="32.9" text-anchor="middle">@9.5 μm</text>
<rect x="860.5" y="54.8" width="72.3" height="35.6" fill="url(#gPk)"/>
<rect x="860.5" y="54.8" width="72.3" height="35.6" fill="none" stroke="#e5acf7" stroke-width="6.9" stroke-linecap="round" stroke-dasharray="0 13.9"/>
<text x="948.5" y="82.6">A&gt;0.95</text>
</g>
<text x="729.5" y="32.9" font-family="'Liberation Sans', Arial, sans-serif" font-weight="bold" font-size="41">(b)</text>
<path d="M241.24,940.25 L240.66,941.59 L240.06,942.92 L239.43,944.23 L238.77,945.52 L238.1,946.79 L237.4,948.05 L236.67,949.28 L235.92,950.5 L235.16,951.69 L234.37,952.87 L233.55,954.02 L232.72,955.15 L231.87,956.26 L230.99,957.34 L230.1,958.4 L229.18,959.43 L228.25,960.45 L227.3,961.43 L226.33,962.39 L225.35,963.32 L224.34,964.23 L223.32,965.11 L222.29,965.96 L221.24,966.78 L220.17,967.58 L219.09,968.34 L218,969.08 L216.89,969.78 L215.77,970.46 L214.64,971.1 L213.49,971.72 L212.34,972.3 L211.17,972.86 L210,973.38 L208.81,973.87 L207.62,974.32 L206.42,974.75 L205.21,975.14 L203.99,975.5 L202.77,975.82 L201.54,976.12 L200.31,976.38 L199.07,976.6 L197.83,976.8 L196.58,976.95 L195.33,977.08 L194.08,977.17 L192.83,977.23 L191.58,977.25 L190.33,977.25 L189.08,977.2 L187.83,977.12 L186.58,977.01 L185.33,976.87 L184.09,976.69 L182.85,976.48 L181.61,976.23 L180.38,975.96 L179.16,975.64 L177.94,975.3 L176.73,974.92 L175.52,974.51 L174.32,974.07 L173.13,973.59 L171.95,973.09 L170.78,972.55 L169.62,971.98 L168.48,971.38 L167.34,970.75 L166.21,970.08 L165.1,969.39 L164,968.67 L162.91,967.91 L161.84,967.13 L160.78,966.32 L159.74,965.48 L158.71,964.62 L157.7,963.72 L156.71,962.8 L155.73,961.85 L154.77,960.88 L153.83,959.88 L152.91,958.86 L152.01,957.81 L151.13,956.73 L150.26,955.64 L149.42,954.52 L148.6,953.37 L147.8,952.21 L147.02,951.02" fill="none" stroke="#3a45c6" stroke-width="6.2" stroke-linecap="round" stroke-linejoin="round"/>
<path d="M145.9,949.4 L145.9,962 L145.9,975.2" fill="none" stroke="#4a84ef" stroke-width="6.2" stroke-linecap="round" stroke-linejoin="round"/>
<path d="M145.9,977.8 L148.5,971" fill="none" stroke="#44b7f7" stroke-width="6.2" stroke-linecap="round" stroke-linejoin="round"/>
<path d="M151,966.38 L151.31,968.1 L151.67,969.82 L152.07,971.51 L152.53,973.19 L153.04,974.85 L153.59,976.48 L154.2,978.09 L154.85,979.67 L155.54,981.23 L156.29,982.75 L157.07,984.24 L157.9,985.69 L158.77,987.11 L159.69,988.49 L160.64,989.83 L161.63,991.13 L162.66,992.38 L163.73,993.59 L164.83,994.75 L165.96,995.86 L167.13,996.92 L168.33,997.94 L169.55,998.9 L170.81,999.8 L172.09,1000.66 L173.39,1001.45 L174.72,1002.19 L176.07,1002.87 L177.43,1003.5 L178.82,1004.06 L180.22,1004.57 L181.63,1005.01 L183.06,1005.39 L184.5,1005.71 L185.94,1005.97 L187.39,1006.17 L188.85,1006.3 L190.31,1006.37 L191.77,1006.38 L193.23,1006.32 L194.69,1006.2 L196.14,1006.02 L197.59,1005.78 L199.03,1005.47 L200.46,1005.1 L201.87,1004.67 L203.28,1004.18 L204.67,1003.63 L206.04,1003.02 L207.39,1002.35 L208.72,1001.63 L210.03,1000.84 L211.32,1000 L212.58,999.11 L213.81,998.16 L215.01,997.16 L216.19,996.11 L217.33,995 L218.44,993.85 L219.51,992.66 L220.55,991.41 L221.55,990.13 L222.51,988.8 L223.44,987.43 L224.32,986.02 L225.16,984.57 L225.95,983.09 L226.7,981.58 L227.41,980.03 L228.07,978.45 L228.69,976.85 L229.25,975.22 L229.77,973.57 L230.24,971.9 L230.66,970.2 L231.03,968.49 L231.34,966.77 L231.61,965.03 L231.83,963.29 L231.99,961.53 L232.1,959.77 L232.17,958 L232.17,956.24 L232.13,954.47 L232.03,952.71 L231.89,950.95 L231.69,949.2 L231.44,947.46 L231.13,945.73 L230.78,944.02" fill="none" stroke="#79d28f" stroke-width="6.2" stroke-linecap="round" stroke-linejoin="round"/>
<path d="M229.47,942.83 L229.48,944.04 L229.49,945.25 L229.51,946.47 L229.52,947.68 L229.55,948.89 L229.57,950.1 L229.6,951.31 L229.63,952.53 L229.66,953.74 L229.7,954.95 L229.74,956.16 L229.78,957.37 L229.83,958.58 L229.88,959.8 L229.93,961.01 L229.99,962.22 L230.05,963.43 L230.11,964.64 L230.18,965.85 L230.24,967.06 L230.32,968.27 L230.39,969.48 L230.47,970.69 L230.55,971.89 L230.64,973.1 L230.72,974.31 L230.81,975.52 L230.91,976.73 L231.01,977.93 L231.11,979.14 L231.21,980.34 L231.32,981.55 L231.43,982.76 L231.54,983.96 L231.65,985.17 L231.77,986.37 L231.9,987.57 L232.02,988.78 L232.15,989.98 L232.28,991.18 L232.42,992.38 L232.56,993.58 L232.7,994.78 L232.84,995.98 L232.99,997.18 L233.14,998.38 L233.29,999.58 L233.45,1000.78 L233.61,1001.97 L233.77,1003.17 L233.94,1004.37 L234.11,1005.56 L234.28,1006.76 L234.46,1007.95 L234.64,1009.14 L234.82,1010.34 L235,1011.53 L235.19,1012.72 L235.38,1013.91 L235.58,1015.1 L235.77,1016.29 L235.97,1017.48 L236.18,1018.66 L236.39,1019.85 L236.6,1021.04 L236.81,1022.22 L237.02,1023.4 L237.24,1024.59 L237.47,1025.77 L237.69,1026.95 L237.92,1028.13 L238.15,1029.31 L238.39,1030.49 L238.62,1031.67 L238.86,1032.85 L239.11,1034.02 L239.36,1035.2 L239.61,1036.37 L239.86,1037.55 L240.11,1038.72 L240.37,1039.89 L240.64,1041.06 L240.9,1042.23 L241.17,1043.4 L241.44,1044.56 L241.72,1045.73 L241.99,1046.9 L242.27,1048.06 L242.56,1049.22 L242.84,1050.39" fill="none" stroke="#fdc955" stroke-width="6.2" stroke-linecap="round" stroke-linejoin="round"/>
<path d="M243.35,1051.61 L245.75,1052.48 L248.18,1053.28 L250.62,1054.01 L253.08,1054.65 L255.54,1055.22 L258.02,1055.71 L260.51,1056.13 L263.01,1056.46 L265.52,1056.72 L268.03,1056.9 L270.54,1056.99 L273.05,1057.01 L275.56,1056.95 L278.07,1056.82 L280.58,1056.6 L283.08,1056.3 L285.58,1055.93 L288.06,1055.47 L290.54,1054.94 L293,1054.33 L295.45,1053.65 L297.88,1052.89 L300.3,1052.05 L302.69,1051.13 L305.07,1050.14 L307.42,1049.08 L309.75,1047.94 L312.06,1046.73 L314.34,1045.45 L316.59,1044.09 L318.81,1042.67 L321,1041.18 L323.15,1039.61 L325.27,1037.98 L327.36,1036.29 L329.41,1034.53 L331.42,1032.7 L333.39,1030.82 L335.32,1028.87 L337.21,1026.86 L339.05,1024.8 L340.85,1022.67 L342.6,1020.49 L344.3,1018.26 L345.96,1015.97 L347.56,1013.63 L349.12,1011.25 L350.62,1008.81 L352.07,1006.33 L353.47,1003.8 L354.81,1001.23 L356.09,998.62 L357.32,995.97 L358.49,993.28 L359.61,990.55 L360.66,987.8 L361.66,985 L362.59,982.18 L363.46,979.33 L364.27,976.46 L365.02,973.56 L365.71,970.63 L366.34,967.69 L366.9,964.73 L367.39,961.75 L367.83,958.75 L368.19,955.75 L368.5,952.73 L368.73,949.71 L368.91,946.67 L369.01,943.64 L369.06,940.6 L369.03,937.56 L368.95,934.52 L368.79,931.49 L368.57,928.46 L368.29,925.44 L367.94,922.43 L367.53,919.43 L367.05,916.45 L366.51,913.48 L365.9,910.53 L365.23,907.6 L364.5,904.7 L363.71,901.81 L362.85,898.96 L361.94,896.13 L360.96,893.33 L359.92,890.56 L358.83,887.82" fill="none" stroke="#dc1d25" stroke-width="6.2" stroke-linecap="round" stroke-linejoin="round"/>
<ellipse cx="513.38" cy="940.15" rx="157.68" ry="190.67" fill="url(#gPkA)"/>
<ellipse cx="513.38" cy="940.15" rx="157.68" ry="190.67" fill="none" stroke="#e3a8f7" stroke-width="6.6" stroke-linecap="round" stroke-dasharray="0 13.85"/>
<path d="M110.3,940.15 H712.6 M478.1,694.9 V1183.2" stroke="#747474" stroke-width="3" fill="none" stroke-dasharray="18.2 17.9"/>
<rect x="109.8" y="697.1" width="602.8" height="486.1" fill="none" stroke="#000" stroke-width="3"/>
<path d="M100.2,1183.2 H109.8 M100.2,1061.68 H109.8 M100.2,940.15 H109.8 M100.2,818.63 H109.8 M100.2,697.1 H109.8 M143.1,1183.2 V1192.1 M310.6,1183.2 V1192.1 M478.1,1183.2 V1192.1 M645.6,1183.2 V1192.1" stroke="#000" stroke-width="3" fill="none"/>
<g font-family="'Liberation Sans', Arial, sans-serif" font-weight="bold" font-size="32">
<text x="93.5" y="1192.8" text-anchor="end">-0.6</text>
<text x="93.5" y="1071.28" text-anchor="end">-0.3</text>
<text x="93.5" y="949.75" text-anchor="end">0.0</text>
<text x="93.5" y="828.23" text-anchor="end">0.3</text>
<text x="93.5" y="706.7" text-anchor="end">0.6</text>
<text x="143.1" y="1224.1" text-anchor="middle">0.0</text>
<text x="310.6" y="1224.1" text-anchor="middle">0.5</text>
<text x="478.1" y="1224.1" text-anchor="middle">1.0</text>
<text x="645.6" y="1224.1" text-anchor="middle">1.5</text>
</g>
<g font-family="'Liberation Serif', 'Times New Roman', serif" font-weight="bold" font-size="32">
<text x="411.2" y="1268.6" text-anchor="middle">Real(Impedance)</text>
<text transform="translate(26,940.15) rotate(-90)" text-anchor="middle">Imag(Impedance)</text>
<text x="411.2" y="682.5" text-anchor="middle">@11.0 μm</text>
<rect x="118.8" y="709.8" width="71.5" height="35.6" fill="url(#gPk)"/>
<rect x="118.8" y="709.8" width="71.5" height="35.6" fill="none" stroke="#e5acf7" stroke-width="6.9" stroke-linecap="round" stroke-dasharray="0 13.9"/>
<text x="205.2" y="737.3">A&gt;0.95</text>
</g>
<text x="1.8" y="666.6" font-family="'Liberation Sans', Arial, sans-serif" font-weight="bold" font-size="41">(c)</text>
<path d="M982.33,939.17 L981.72,940.44 L981.07,941.7 L980.41,942.93 L979.73,944.15 L979.02,945.35 L978.3,946.54 L977.55,947.7 L976.78,948.84 L976,949.97 L975.19,951.07 L974.36,952.15 L973.52,953.22 L972.65,954.25 L971.77,955.27 L970.87,956.27 L969.96,957.24 L969.02,958.18 L968.08,959.11 L967.11,960 L966.13,960.88 L965.13,961.73 L964.12,962.55 L963.1,963.34 L962.06,964.11 L961,964.86 L959.94,965.57 L958.86,966.26 L957.77,966.92 L956.67,967.55 L955.56,968.15 L954.44,968.73 L953.31,969.27 L952.17,969.79 L951.02,970.28 L949.86,970.73 L948.69,971.16 L947.52,971.56 L946.34,971.93 L945.15,972.26 L943.96,972.57 L942.77,972.84 L941.56,973.09 L940.36,973.3 L939.15,973.49 L937.94,973.64 L936.72,973.76 L935.51,973.85 L934.29,973.91 L933.07,973.93 L931.86,973.93 L930.64,973.89 L929.42,973.82 L928.2,973.73 L926.99,973.6 L925.78,973.44 L924.57,973.24 L923.37,973.02 L922.17,972.77 L920.97,972.48 L919.78,972.17 L918.6,971.82 L917.42,971.44 L916.25,971.04 L915.09,970.6 L913.93,970.14 L912.78,969.64 L911.65,969.12 L910.52,968.56 L909.4,967.98 L908.29,967.37 L907.19,966.73 L906.11,966.06 L905.03,965.36 L903.97,964.64 L902.92,963.89 L901.89,963.11 L900.87,962.31 L899.86,961.48 L898.87,960.62 L897.89,959.74 L896.93,958.84 L895.99,957.91 L895.06,956.95 L894.15,955.97 L893.25,954.97 L892.38,953.95 L891.52,952.9 L890.68,951.84 L889.86,950.75 L889.06,949.64" fill="none" stroke="#3a45c6" stroke-width="6.2" stroke-linecap="round" stroke-linejoin="round"/>
<path d="M886.4,948.4 L886.4,958 L886.4,967.6" fill="none" stroke="#4a84ef" stroke-width="6.2" stroke-linecap="round" stroke-linejoin="round"/>
<path d="M886.4,969.8 L889.2,963.2" fill="none" stroke="#44b7f7" stroke-width="6.2" stroke-linecap="round" stroke-linejoin="round"/>
<path d="M890.35,962.71 L890.5,963.64 L890.66,964.56 L890.84,965.49 L891.04,966.4 L891.24,967.32 L891.47,968.22 L891.71,969.12 L891.96,970.02 L892.23,970.91 L892.51,971.79 L892.81,972.67 L893.12,973.54 L893.44,974.4 L893.78,975.25 L894.14,976.1 L894.5,976.93 L894.88,977.76 L895.28,978.58 L895.68,979.39 L896.1,980.19 L896.53,980.98 L896.98,981.76 L897.44,982.52 L897.91,983.28 L898.39,984.02 L898.89,984.76 L899.39,985.48 L899.91,986.19 L900.44,986.89 L900.98,987.57 L901.54,988.24 L902.1,988.9 L902.67,989.54 L903.26,990.17 L903.85,990.79 L904.46,991.39 L905.07,991.98 L905.69,992.55 L906.33,993.11 L906.97,993.65 L907.62,994.18 L908.28,994.69 L908.94,995.19 L909.62,995.67 L910.3,996.13 L910.99,996.58 L911.69,997.01 L912.39,997.42 L913.1,997.82 L913.82,998.2 L914.54,998.56 L915.27,998.91 L916.01,999.23 L916.75,999.54 L917.49,999.84 L918.24,1000.11 L918.99,1000.37 L919.75,1000.61 L920.51,1000.83 L921.28,1001.03 L922.04,1001.22 L922.82,1001.38 L923.59,1001.53 L924.36,1001.66 L925.14,1001.77 L925.92,1001.86 L926.7,1001.94 L927.48,1001.99 L928.27,1002.03 L929.05,1002.04 L929.83,1002.04 L930.61,1002.02 L931.4,1001.99 L932.18,1001.93 L932.96,1001.85 L933.74,1001.76 L934.51,1001.65 L935.29,1001.51 L936.06,1001.36 L936.83,1001.2 L937.6,1001.01 L938.37,1000.81 L939.13,1000.58 L939.88,1000.34 L940.64,1000.08 L941.39,999.8 L942.13,999.51 L942.87,999.2 L943.6,998.87 L944.33,998.52" fill="none" stroke="#79d28f" stroke-width="6.2" stroke-linecap="round" stroke-linejoin="round"/>
<path d="M945.32,998.09 L945.41,999.28 L945.51,1000.46 L945.61,1001.65 L945.71,1002.83 L945.81,1004.01 L945.92,1005.2 L946.02,1006.38 L946.13,1007.56 L946.24,1008.75 L946.35,1009.93 L946.47,1011.11 L946.58,1012.29 L946.7,1013.48 L946.82,1014.66 L946.94,1015.84 L947.07,1017.02 L947.19,1018.2 L947.32,1019.38 L947.45,1020.56 L947.58,1021.74 L947.71,1022.92 L947.85,1024.1 L947.98,1025.28 L948.12,1026.46 L948.26,1027.64 L948.41,1028.82 L948.55,1029.99 L948.7,1031.17 L948.85,1032.35 L949,1033.52 L949.15,1034.7 L949.3,1035.88 L949.46,1037.05 L949.62,1038.23 L949.78,1039.4 L949.94,1040.58 L950.1,1041.75 L950.27,1042.92 L950.43,1044.1 L950.6,1045.27 L950.77,1046.44 L950.95,1047.61 L951.12,1048.78 L951.3,1049.96 L951.48,1051.13 L951.66,1052.3 L951.84,1053.47 L952.03,1054.64 L952.21,1055.8 L952.4,1056.97 L952.59,1058.14 L952.78,1059.31 L952.98,1060.48 L953.17,1061.64 L953.37,1062.81 L953.57,1063.98 L953.77,1065.14 L953.98,1066.31 L954.18,1067.47 L954.39,1068.63 L954.6,1069.8 L954.81,1070.96 L955.02,1072.12 L955.24,1073.28 L955.45,1074.45 L955.67,1075.61 L955.89,1076.77 L956.11,1077.93 L956.34,1079.09 L956.56,1080.24 L956.79,1081.4 L957.02,1082.56 L957.25,1083.72 L957.49,1084.87 L957.72,1086.03 L957.96,1087.19 L958.2,1088.34 L958.44,1089.49 L958.68,1090.65 L958.93,1091.8 L959.17,1092.95 L959.42,1094.11 L959.67,1095.26 L959.92,1096.41 L960.18,1097.56 L960.43,1098.71 L960.69,1099.86 L960.95,1101.01 L961.21,1102.15 L961.48,1103.3" fill="none" stroke="#fdc955" stroke-width="6.2" stroke-linecap="round" stroke-linejoin="round"/>
<path d="M962.72,1104.65 L966.47,1108.69 L970.3,1112.6 L974.22,1116.38 L978.22,1120.04 L982.3,1123.56 L986.46,1126.94 L990.7,1130.19 L995.01,1133.3 L999.38,1136.26 L1003.82,1139.08 L1008.32,1141.75 L1012.88,1144.28 L1017.5,1146.65 L1022.17,1148.87 L1026.88,1150.94 L1031.64,1152.85 L1036.44,1154.6 L1041.28,1156.19 L1046.15,1157.63 L1051.06,1158.9 L1055.99,1160.02 L1060.94,1160.97 L1065.91,1161.75 L1070.9,1162.38 L1075.9,1162.84 L1080.91,1163.13 L1085.93,1163.26 L1090.94,1163.23 L1095.95,1163.03 L1100.96,1162.66 L1105.96,1162.14 L1110.94,1161.44 L1115.9,1160.59 L1120.85,1159.57 L1125.77,1158.39 L1130.66,1157.05 L1135.52,1155.54 L1140.34,1153.88 L1145.12,1152.06 L1149.86,1150.09 L1154.56,1147.96 L1159.21,1145.67 L1163.8,1143.24 L1168.33,1140.65 L1172.81,1137.92 L1177.22,1135.04 L1181.57,1132.01 L1185.85,1128.84 L1190.05,1125.54 L1194.18,1122.1 L1198.23,1118.52 L1202.2,1114.81 L1206.08,1110.97 L1209.88,1107.01 L1213.58,1102.92 L1217.19,1098.71 L1220.71,1094.39 L1224.13,1089.95 L1227.44,1085.4 L1230.66,1080.75 L1233.76,1075.99 L1236.76,1071.12 L1239.65,1066.17 L1242.43,1061.12 L1245.09,1055.98 L1247.63,1050.75 L1250.06,1045.44 L1252.37,1040.06 L1254.55,1034.6 L1256.61,1029.07 L1258.55,1023.48 L1260.36,1017.82 L1262.04,1012.11 L1263.59,1006.34 L1265.01,1000.53 L1266.31,994.67 L1267.47,988.77 L1268.49,982.83 L1269.38,976.86 L1270.14,970.87 L1270.76,964.85 L1271.25,958.82 L1271.6,952.77 L1271.82,946.71 L1271.9,940.64 L1271.84,934.58 L1271.65,928.52 L1271.32,922.47 L1270.85,916.43 L1270.25,910.41" fill="none" stroke="#dc1d25" stroke-width="6.2" stroke-linecap="round" stroke-linejoin="round"/>
<ellipse cx="1253.78" cy="940.15" rx="157.68" ry="190.67" fill="url(#gPkA)"/>
<ellipse cx="1253.78" cy="940.15" rx="157.68" ry="190.67" fill="none" stroke="#e3a8f7" stroke-width="6.6" stroke-linecap="round" stroke-dasharray="0 13.85"/>
<path d="M850.7,940.15 H1453 M1218.5,694.9 V1183.2" stroke="#747474" stroke-width="3" fill="none" stroke-dasharray="18.2 17.9"/>
<rect x="850.2" y="697.1" width="602.8" height="486.1" fill="none" stroke="#000" stroke-width="3"/>
<path d="M840.6,1183.2 H850.2 M840.6,1061.68 H850.2 M840.6,940.15 H850.2 M840.6,818.63 H850.2 M840.6,697.1 H850.2 M883.5,1183.2 V1192.1 M1051,1183.2 V1192.1 M1218.5,1183.2 V1192.1 M1386,1183.2 V1192.1" stroke="#000" stroke-width="3" fill="none"/>
<g font-family="'Liberation Sans', Arial, sans-serif" font-weight="bold" font-size="32">
<text x="833.9" y="1192.8" text-anchor="end">-0.6</text>
<text x="833.9" y="1071.28" text-anchor="end">-0.3</text>
<text x="833.9" y="949.75" text-anchor="end">0.0</text>
<text x="833.9" y="828.23" text-anchor="end">0.3</text>
<text x="833.9" y="706.7" text-anchor="end">0.6</text>
<text x="883.5" y="1224.1" text-anchor="middle">0.0</text>
<text x="1051" y="1224.1" text-anchor="middle">0.5</text>
<text x="1218.5" y="1224.1" text-anchor="middle">1.0</text>
<text x="1386" y="1224.1" text-anchor="middle">1.5</text>
</g>
<g font-family="'Liberation Serif', 'Times New Roman', serif" font-weight="bold" font-size="32">
<text x="1151.6" y="1268.6" text-anchor="middle">Real(Impedance)</text>
<text transform="translate(766.4,940.15) rotate(-90)" text-anchor="middle">Imag(Impedance)</text>
<text x="1151.6" y="682.5" text-anchor="middle">@13.0 μm</text>
<rect x="860.5" y="711.8" width="72.3" height="35.6" fill="url(#gPk)"/>
<rect x="860.5" y="711.8" width="72.3" height="35.6" fill="none" stroke="#e5acf7" stroke-width="6.9" stroke-linecap="round" stroke-dasharray="0 13.9"/>
<text x="948.5" y="740.1">A&gt;0.95</text>
</g>
<text x="729.5" y="666.6" font-family="'Liberation Sans', Arial, sans-serif" font-weight="bold" font-size="41">(d)</text>
<text x="1.8" y="33.0" font-family="'Liberation Sans', Arial, sans-serif" font-weight="bold" font-size="41">(a)</text>
<rect x="1504.8" y="250.6" width="6.6" height="48.3" fill="#dc1d25"/>
<rect x="1554.7" y="250.6" width="6.6" height="48.3" fill="#fdc955"/>
<rect x="1601.4" y="250.6" width="6.6" height="48.3" fill="#79d28f"/>
<rect x="1644.9" y="250.6" width="6.6" height="48.3" fill="#44b7f7"/>
<rect x="1688.8" y="250.6" width="6.6" height="48.3" fill="#4a84ef"/>
<rect x="1728.2" y="250.6" width="6.6" height="48.3" fill="#3a45c6"/>
<g font-family="'Liberation Serif', 'Times New Roman', serif" font-weight="bold" font-size="35.5" fill="#000">
<text transform="translate(1722.4,332) rotate(90)">Si——Si/Cr</text>
<text transform="translate(1678.6,332) rotate(90)">Si/Cr——Si/Cr/Ge</text>
<text transform="translate(1634.8,332) rotate(90)">Si/Cr/Ge——Si/Cr/Ge/Ti</text>
<text transform="translate(1591.1,332) rotate(90)">Si/Cr/Ge/Ti——Si/Cr/Ge/Ti/Bi</text>
<text transform="translate(1545.8,332) rotate(90)">Si/Cr/Ge/Ti/Bi——Si/Cr/Ge/Ti/Bi/YbF<tspan font-size="22" dy="7">3</tspan></text>
<text transform="translate(1494.2,332) rotate(90)">Si/Cr/Ge/Ti/Bi/YbF<tspan font-size="22" dy="7">3</tspan><tspan dy="-7">——Si/Cr/Ge/Ti/Bi/YbF</tspan><tspan font-size="22" dy="7">3</tspan><tspan dy="-7">/Ge</tspan></text>
</g>
</svg></body></html>
